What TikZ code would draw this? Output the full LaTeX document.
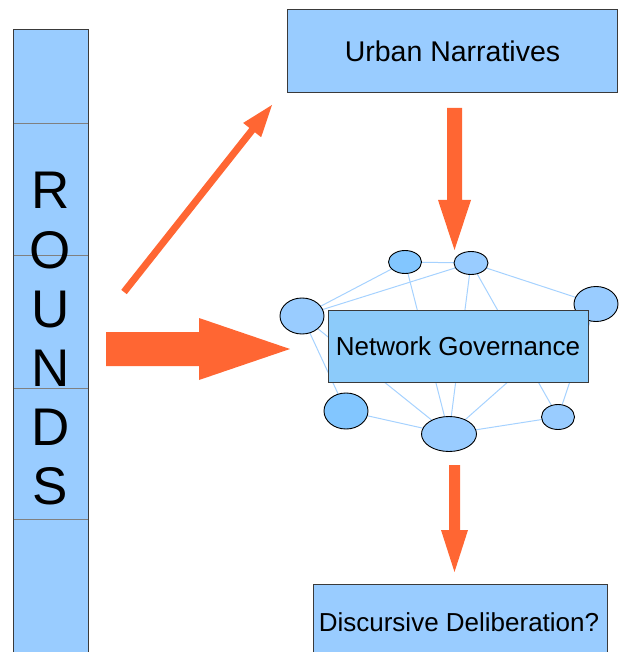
\documentclass[tikz,border=0pt]{standalone}
\usepackage{fontspec}
\setmainfont{Liberation Sans}
\usetikzlibrary{calc,backgrounds,shapes.geometric}

\definecolor{paleblue}{HTML}{99CCFF}
\definecolor{midblue}{HTML}{82C6FF}
\definecolor{boxblue}{HTML}{8CCBFA}
\definecolor{linkblue}{HTML}{A6D2FF}
\definecolor{flow}{HTML}{FF6633}
\definecolor{rim}{HTML}{3A3A3A}

\tikzset{
  panel/.style={draw=rim, line width=1pt, fill=paleblue, inner sep=0pt,
    font=\fontsize{26}{30}\selectfont},
  actor/.style={ellipse, draw=black, line width=0.9pt, fill=paleblue, inner sep=0pt},
  link/.style={draw=linkblue, line width=1pt},
  divider/.style={draw=gray, line width=0.8pt}
}

% block arrow from #1 to #2: shaft half width #3, head length #4, head half width #5
\newcommand\blockarrow[5]{%
  \coordinate (hb) at ($(#2)!#4!(#1)$);
  \fill[flow] ($(#1)!#3!90:(#2)$) -- ($(hb)!#3!90:(#2)$) -- ($(hb)!#5!90:(#2)$)
    -- (#2) -- ($(hb)!#5!-90:(#2)$) -- ($(hb)!#3!-90:(#2)$)
    -- ($(#1)!#3!-90:(#2)$) -- cycle;
}

\begin{document}
\begin{tikzpicture}[x=1pt, y=-1pt]
\useasboundingbox (0,0) rectangle (618,652);

% the ROUNDS column
\node[panel, minimum width=75pt, minimum height=633pt, anchor=north west] (rounds) at (13,29) {};
\foreach \yy in {123,255,388,519}
  \draw[divider] (13.5,\yy) -- (87.5,\yy);
\node[align=center, inner sep=0pt, font=\fontsize{53}{59.2}\selectfont] (roundslabel) at (50.5,339)
  {R\\O\\U\\N\\D\\S};

% the three labelled boxes
\node[panel, minimum width=330pt, minimum height=83pt, font=\fontsize{28.5}{31}\selectfont] (urban) at (452.5,51.5) {Urban Narratives};
\node[panel, minimum width=294pt, minimum height=80pt, anchor=north west] (disc) at (313,584) {};
\node[inner sep=0pt, font=\fontsize{26}{30}\selectfont] (disclabel) at (459,622) {Discursive Deliberation?};

% the network of actors
\node[actor, fill=midblue, minimum width=33pt, minimum height=23pt] (e1) at (405,262) {};
\node[actor, minimum width=34pt, minimum height=23pt] (e2) at (471,263) {};
\node[actor, minimum width=44pt, minimum height=36pt] (e3) at (302,316) {};
\node[actor, minimum width=44pt, minimum height=35pt] (e4) at (596,304) {};
\node[actor, fill=midblue, minimum width=44pt, minimum height=36pt] (e5) at (346,411) {};
\node[actor, minimum width=55pt, minimum height=35pt] (e6) at (449,434) {};
\node[actor, minimum width=33pt, minimum height=25pt] (e7) at (558,417) {};

\begin{scope}[on background layer]
  \foreach \a/\b in {e1/e2, e1/e3, e2/e3, e2/e4, e1/e6, e2/e6, e2/e7,
                     e3/e5, e3/e6, e4/e7, e4/e6, e5/e6, e6/e7}
    \draw[link] (\a.center) -- (\b.center);
\end{scope}

\node[panel, fill=boxblue, minimum width=260pt, minimum height=72pt] (net) at (458,346) {Network Governance};

% arrows
\coordinate (diagtail) at (124,292);
\coordinate (diagtip) at (272,105);
\blockarrow{diagtail}{diagtip}{3.5pt}{32pt}{11.5pt}

\coordinate (bigtail) at (106,349);
\coordinate (bigtip) at (290,349);
\blockarrow{bigtail}{bigtip}{17pt}{91pt}{31pt}

\coordinate (urbanout) at (454.5,108);
\coordinate (netin) at (454.5,250);
\blockarrow{urbanout}{netin}{7.5pt}{50pt}{16.5pt}

\coordinate (netout) at (454.5,465);
\coordinate (discin) at (454.5,572);
\blockarrow{netout}{discin}{5.5pt}{42pt}{13.5pt}
\end{tikzpicture}
\end{document}
